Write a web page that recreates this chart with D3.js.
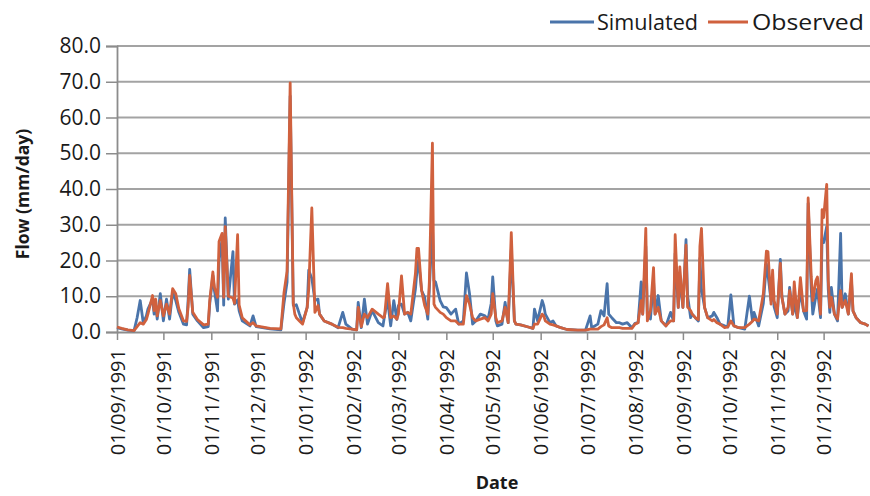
<!DOCTYPE html>
<html>
<head>
<meta charset="utf-8">
<script src="https://cdn.jsdelivr.net/npm/d3@7"></script>
<style>
  body { margin: 0; background: #fff; }
  svg { display: block; font-family: "Open Sans", sans-serif; }
</style>
</head>
<body>
<svg id="chart" width="870" height="496"></svg>
<script>
// Daily flow at the days where the curves turn.
// dayOffset = days since 01/09/1991
const dayOffset = [0, 3, 7, 11, 13, 15, 17, 19, 20, 23, 24, 25, 26, 28, 30, 32, 34, 36, 38, 40,
  43, 45, 46, 47, 49, 52, 56, 59, 60, 62, 63, 65, 66, 68, 69, 70, 72, 75, 76, 78,
  79, 81, 86, 88, 90, 99, 106, 108, 110, 112, 114, 115, 116, 118, 120, 123, 124, 126, 128, 130,
  131, 134, 139, 143, 146, 148, 152, 155, 156, 158, 160, 162, 165, 169, 172, 173, 175, 177, 179, 181,
  182, 184, 186, 188, 190, 193, 194, 195, 197, 199, 201, 202, 204, 205, 206, 209, 211, 213, 216, 219,
  221, 224, 226, 228, 230, 232, 235, 238, 240, 242, 243, 245, 246, 249, 251, 253, 255, 257, 258, 261,
  266, 269, 270, 272, 275, 276, 277, 280, 282, 284, 287, 291, 298, 303, 306, 307, 311, 313, 315, 317,
  318, 320, 323, 325, 327, 330, 333, 335, 337, 339, 340, 342, 343, 345, 347, 348, 350, 352, 355, 358,
  360, 361, 363, 364, 366, 368, 369, 371, 372, 374, 376, 377, 378, 380, 382, 385, 386, 388, 390, 393,
  395, 397, 399, 402, 406, 409, 411, 412, 415, 418, 420, 421, 423, 424, 425, 427, 429, 430, 432, 434,
  435, 437, 438, 440, 442, 444, 446, 447, 449, 450, 452, 453, 455, 456, 457, 459, 460, 461, 462, 464,
  466, 468, 469, 471, 473, 475, 476, 478, 481, 484, 486];

const simulated = [1.2, 0.9, 0.5, 0.3, 4.0, 8.8, 2.5, 4.5, 6.4, 9.2, 5.0, 7.5, 3.6, 10.7, 3.1, 9.2, 3.6, 11.1, 8.8, 5.5,
  2.2, 2.0, 9.0, 17.5, 5.0, 3.1, 1.2, 1.5, 8.0, 15.8, 11.6, 5.9, 20.0, 26.0, 7.5, 31.9, 9.2, 22.5, 7.8, 9.0,
  5.9, 3.1, 1.7, 4.5, 1.5, 0.9, 0.6, 8.0, 14.0, 66.0, 7.5, 7.4, 7.6, 5.0, 2.6, 6.9, 17.3, 15.0, 8.8, 9.2,
  5.0, 3.1, 2.2, 1.2, 5.5, 2.2, 0.8, 0.6, 8.3, 1.2, 9.2, 2.2, 6.0, 2.6, 1.7, 4.5, 9.0, 1.7, 8.8, 3.5,
  7.4, 7.8, 5.0, 5.5, 3.1, 12.0, 17.0, 20.0, 11.6, 9.7, 3.6, 12.0, 30.0, 14.4, 14.0, 8.8, 7.0, 6.8, 5.0, 6.4,
  2.2, 3.1, 16.5, 10.7, 2.2, 3.1, 5.0, 4.5, 3.6, 8.0, 15.4, 3.1, 1.7, 2.2, 8.3, 2.6, 23.0, 3.1, 2.2, 2.0,
  1.4, 1.0, 6.4, 3.1, 8.8, 7.4, 5.0, 2.6, 3.1, 1.7, 1.2, 0.7, 0.5, 0.5, 4.5, 1.2, 2.2, 6.0, 4.5, 13.5,
  5.0, 4.0, 2.6, 2.6, 2.2, 2.6, 1.2, 2.4, 2.6, 14.0, 5.0, 24.0, 5.0, 3.6, 14.4, 5.0, 10.2, 3.1, 1.7, 5.5,
  3.1, 22.0, 6.9, 15.0, 6.9, 25.8, 10.2, 4.0, 5.0, 4.0, 3.1, 20.6, 12.0, 6.9, 4.0, 4.5, 5.5, 4.0, 2.2, 1.7,
  1.4, 10.4, 1.7, 1.2, 0.8, 10.0, 3.1, 5.5, 1.7, 8.0, 19.0, 16.0, 8.8, 12.0, 7.0, 4.0, 20.3, 10.0, 5.0, 5.9,
  12.5, 5.0, 8.0, 4.0, 11.6, 5.9, 3.6, 36.0, 12.0, 5.0, 10.0, 12.0, 4.0, 26.0, 25.0, 29.5, 12.0, 5.5, 12.5, 5.0,
  3.1, 27.6, 6.9, 10.7, 5.0, 14.4, 5.9, 4.0, 2.6, 2.2, 1.7];

const observed = [1.4, 1.0, 0.6, 0.4, 1.5, 2.6, 2.2, 3.5, 5.0, 10.2, 6.0, 9.2, 4.5, 8.8, 4.5, 7.8, 5.0, 12.1, 10.7, 6.5,
  3.1, 3.0, 7.0, 15.8, 5.5, 3.5, 2.0, 2.2, 9.0, 16.8, 12.5, 9.7, 25.3, 27.6, 9.7, 29.5, 10.0, 9.5, 8.0, 27.2,
  7.5, 4.0, 2.0, 2.6, 1.7, 1.0, 0.9, 11.0, 17.0, 69.7, 8.0, 5.0, 4.0, 3.1, 2.2, 6.9, 12.0, 34.7, 5.5, 7.4,
  5.0, 3.1, 2.2, 1.3, 1.2, 1.0, 0.8, 0.6, 6.9, 1.5, 5.0, 4.0, 6.4, 5.0, 4.0, 4.2, 13.5, 4.0, 4.5, 3.6,
  5.0, 15.7, 5.0, 5.5, 5.0, 16.3, 23.4, 23.4, 11.6, 7.4, 5.0, 14.0, 52.8, 7.8, 6.9, 5.5, 5.0, 4.0, 3.1, 3.1,
  2.2, 2.2, 10.2, 7.8, 4.0, 3.1, 3.6, 4.0, 3.1, 5.0, 10.7, 4.0, 2.6, 3.1, 6.9, 2.6, 27.8, 3.1, 2.2, 2.0,
  1.4, 1.0, 2.2, 2.2, 5.0, 4.5, 3.1, 2.2, 2.0, 1.7, 1.2, 0.7, 0.5, 0.5, 0.8, 0.8, 0.8, 1.5, 2.0, 4.0,
  1.7, 1.2, 1.2, 1.2, 1.0, 1.0, 1.0, 2.2, 2.6, 8.8, 5.0, 29.0, 3.1, 6.0, 18.0, 5.0, 6.9, 3.1, 1.7, 3.1,
  3.1, 27.2, 6.9, 18.2, 6.9, 24.3, 7.0, 6.0, 5.0, 4.0, 3.5, 24.0, 29.0, 6.9, 4.0, 3.1, 3.5, 2.6, 2.2, 1.2,
  1.4, 3.1, 1.7, 1.2, 1.2, 2.2, 3.0, 3.6, 3.1, 10.7, 22.6, 22.5, 7.8, 17.3, 8.8, 5.0, 19.2, 9.7, 5.0, 6.9,
  11.6, 5.0, 14.0, 4.0, 15.2, 5.9, 6.0, 37.5, 15.4, 8.8, 14.4, 15.4, 5.0, 34.2, 32.0, 41.3, 14.4, 6.9, 9.7, 5.0,
  3.6, 11.6, 6.9, 8.8, 5.0, 16.3, 5.9, 4.0, 2.6, 2.2, 1.7];

const yTicks = [0, 10, 20, 30, 40, 50, 60, 70, 80];
const seriesNames = ['Simulated', 'Observed'];
const seriesColors = ['#4a74aa', '#d0613e'];

const startDate = new Date(1991, 8, 1);
const endDate = new Date(1992, 11, 31);
const dates = dayOffset.map(d => d3.timeDay.offset(startDate, d));

const margin = {top: 46, right: 0, bottom: 164, left: 117};
const width = 870;
const height = 496;
const textColor = '#1a1a1a';
const axisColor = '#8c8c8c';

const svg = d3.select('#chart');

const xScale = d3.scaleTime()
    .domain([startDate, endDate])
    .range([margin.left, width - margin.right]);

const yScale = d3.scaleLinear()
    .domain([0, 80])
    .range([height - margin.bottom, margin.top]);

// Gridlines
svg.append('g')
    .selectAll('line')
    .data(yTicks.slice(1))
    .enter().append('line')
    .attr('x1', margin.left)
    .attr('x2', width - margin.right)
    .attr('y1', d => yScale(d))
    .attr('y2', d => yScale(d))
    .style('stroke', '#a3a3a3')
    .style('stroke-width', 1.8);

// Y axis
const yAxis = svg.append('g')
    .attr('transform', `translate(${margin.left},0)`)
    .call(d3.axisLeft(yScale)
        .tickValues(yTicks)
        .tickSize(11)
        .tickPadding(5)
        .tickFormat(d3.format('.1f')));
yAxis.select('.domain').style('stroke', axisColor).style('stroke-width', 1.8);
yAxis.selectAll('.tick line').style('stroke', axisColor).style('stroke-width', 1.5);
yAxis.selectAll('.tick text')
    .style('font-family', '"Open Sans", sans-serif')
    .style('font-size', '21px')
    .style('fill', textColor);

// X axis
const xAxis = svg.append('g')
    .attr('transform', `translate(0,${yScale(0)})`)
    .call(d3.axisBottom(xScale)
        .ticks(d3.timeMonth.every(1))
        .tickSize(8)
        .tickSizeOuter(0)
        .tickFormat(d3.timeFormat('%d/%m/%Y')));
xAxis.select('.domain').style('stroke', axisColor).style('stroke-width', 1.8);
xAxis.selectAll('.tick line').style('stroke', axisColor).style('stroke-width', 1.5);
xAxis.selectAll('.tick text')
    .attr('transform', 'rotate(-90)')
    .attr('x', -17)
    .attr('y', 0)
    .attr('dy', '0.36em')
    .style('text-anchor', 'end')
    .style('font-family', '"Open Sans", sans-serif')
    .style('font-size', '20px')
    .style('fill', textColor);

// Lines
const line = d3.line()
    .x((d, i) => xScale(dates[i]))
    .y(d => yScale(d));

[simulated, observed].forEach((values, i) => {
    svg.append('path')
        .datum(values)
        .attr('d', line)
        .style('fill', 'none')
        .style('stroke', seriesColors[i])
        .style('stroke-width', 2.8)
        .style('stroke-linejoin', 'round');
});

// Axis titles
svg.append('text')
    .attr('x', 497)
    .attr('y', 489)
    .style('text-anchor', 'middle')
    .style('font-size', '18px')
    .style('font-weight', 'bold')
    .style('fill', textColor)
    .text('Date');

svg.append('text')
    .attr('transform', 'translate(29,194) rotate(-90)')
    .style('text-anchor', 'middle')
    .style('font-size', '17.5px')
    .style('font-weight', 'bold')
    .style('fill', textColor)
    .text('Flow (mm/day)');

// Legend
const legendX = [550, 708];
const legendTextWidth = [101, 112];
seriesNames.forEach((name, i) => {
    const g = svg.append('g').attr('transform', `translate(${legendX[i]},22)`);
    g.append('line')
        .attr('x1', 0).attr('x2', i === 0 ? 44 : 40)
        .attr('y1', 0).attr('y2', 0)
        .style('stroke', seriesColors[i])
        .style('stroke-width', 2.8);
    g.append('text')
        .attr('x', i === 0 ? 47 : 44)
        .attr('y', 8)
        .attr('textLength', legendTextWidth[i])
        .attr('lengthAdjust', 'spacingAndGlyphs')
        .style('font-size', '22px')
        .style('fill', textColor)
        .text(name);
});
</script>
</body>
</html>
